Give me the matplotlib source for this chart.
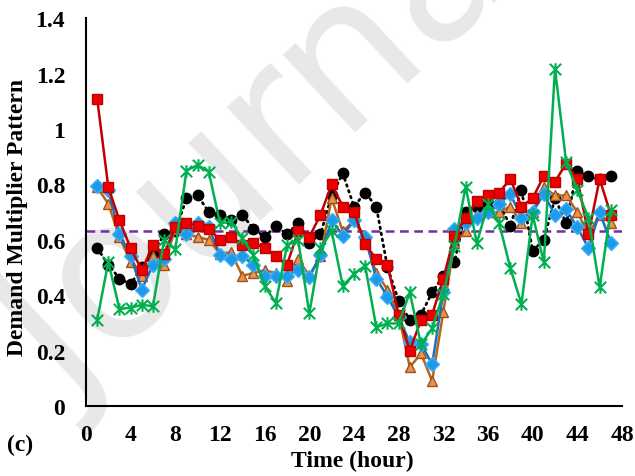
import matplotlib
matplotlib.use("Agg")
import matplotlib.pyplot as plt
from matplotlib.path import Path

# Hour of day (two-day horizon)
hours = list(range(1, 48))

# Demand multiplier patterns
pattern_black = [0.57, 0.51, 0.46, 0.44, 0.50, 0.55, 0.62, 0.63, 0.75, 0.76,
                 0.70, 0.69, 0.67, 0.69, 0.64, 0.61, 0.65, 0.62, 0.66, 0.59,
                 0.62, 0.76, 0.84, 0.72, 0.77, 0.72, 0.50, 0.38, 0.31, 0.33,
                 0.41, 0.47, 0.52, 0.70, 0.72, 0.73, 0.73, 0.65, 0.78, 0.56,
                 0.60, 0.75, 0.66, 0.85, 0.83, 0.82, 0.83]
pattern_red = [1.11, 0.79, 0.67, 0.57, 0.49, 0.58, 0.55, 0.645, 0.66, 0.65,
               0.64, 0.60, 0.61, 0.58, 0.59, 0.57, 0.54, 0.51, 0.63, 0.61,
               0.69, 0.80, 0.72, 0.70, 0.585, 0.53, 0.51, 0.33, 0.20, 0.31,
               0.33, 0.46, 0.615, 0.68, 0.74, 0.76, 0.77, 0.82, 0.72, 0.75,
               0.83, 0.81, 0.875, 0.82, 0.62, 0.82, 0.69]
pattern_brown = [0.79, 0.73, 0.61, 0.52, 0.47, 0.54, 0.51, 0.64, 0.62, 0.61,
                 0.60, 0.55, 0.555, 0.47, 0.48, 0.49, 0.48, 0.45, 0.53, 0.47,
                 0.54, 0.75, 0.63, 0.67, 0.60, 0.48, 0.42, 0.33, 0.14, 0.19,
                 0.09, 0.34, 0.59, 0.63, 0.69, 0.70, 0.70, 0.72, 0.66, 0.70,
                 0.79, 0.76, 0.76, 0.70, 0.62, 0.69, 0.66]
pattern_blue = [0.795, 0.78, 0.62, 0.54, 0.42, 0.51, 0.53, 0.66, 0.62, 0.66,
                0.645, 0.545, 0.53, 0.54, 0.51, 0.47, 0.47, 0.47, 0.49, 0.465,
                0.545, 0.67, 0.615, 0.67, 0.61, 0.46, 0.395, 0.32, 0.23, 0.225,
                0.15, 0.41, 0.64, 0.66, 0.68, 0.70, 0.73, 0.765, 0.68, 0.70,
                0.765, 0.69, 0.71, 0.645, 0.57, 0.70, 0.59]
pattern_green = [0.31, 0.52, 0.35, 0.355, 0.365, 0.36, 0.60, 0.565, 0.85, 0.87,
                 0.845, 0.66, 0.665, 0.605, 0.545, 0.434, 0.372, 0.58, 0.60, 0.334,
                 0.57, 0.63, 0.433, 0.477, 0.506, 0.284, 0.298, 0.298, 0.41, 0.222,
                 0.28, 0.405, 0.579, 0.792, 0.588, 0.729, 0.66, 0.498, 0.368, 0.69,
                 0.519, 1.217, 0.88, 0.78, 0.678, 0.428, 0.708]
average_level = 0.632

x_ticks = list(range(0, 49, 4))
y_ticks = [0, 0.2, 0.4, 0.6, 0.8, 1.0, 1.2, 1.4]
y_tick_labels = ["0", "0.2", "0.4", "0.6", "0.8", "1", "1.2", "1.4"]

serif = ["Liberation Serif", "DejaVu Serif"]
FS = 17

# asterisk-like marker: an X with a vertical bar
star = Path([(-1, -1), (1, 1), (-1, 1), (1, -1), (0, -1.1), (0, 1.1)],
            [Path.MOVETO, Path.LINETO, Path.MOVETO, Path.LINETO,
             Path.MOVETO, Path.LINETO])

fig = plt.figure(figsize=(6.35, 4.77), dpi=100)
ax = fig.add_axes([0.1354, 0.1468, 0.8441, 0.8129])

# watermark, kept underneath the axes and all labels
fig.text(0.44, 0.71, "Journal", fontsize=140, color="#e8e8e8",
         family="DejaVu Sans", rotation=43, rotation_mode="anchor",
         ha="center", va="center", zorder=-5)
ax.set_facecolor("none")

ax.axhline(average_level, color="#7030A0", lw=1.8, ls=(0, (3.5, 2.2)), zorder=1)

ax.plot(hours, pattern_black, color="black", lw=2.0, ls=(0, (0.6, 1.6)),
        dash_capstyle="round", marker="o", ms=7.5, mfc="black", mec="black",
        zorder=2)
ax.plot(hours, pattern_brown, color="#B5651D", lw=1.8, marker="^", ms=7.5,
        mfc="#E8944A", mec="#A0501A", mew=1.0, zorder=3)
ax.plot(hours, pattern_blue, color="#1F6FC0", lw=1.8, marker="D", ms=7,
        mfc="#1E9BE8", mec="#3FB0F5", mew=1.0, zorder=4)
ax.plot(hours, pattern_red, color="#C00000", lw=1.8, marker="s", ms=7.5,
        mfc="#EE0000", mec="#C00000", mew=1.0, zorder=5)
ax.plot(hours, pattern_green, color="#00B050", lw=1.8, marker=star, ms=9,
        mfc="none", mec="#00B050", mew=1.5, zorder=6)

ax.set_xlim(0, 48)
ax.set_ylim(0, 1.4)
ax.set_xticks(x_ticks)
ax.set_yticks(y_ticks)
ax.set_yticklabels(y_tick_labels)
ax.tick_params(axis="both", length=0, labelsize=FS)
ax.tick_params(axis="x", pad=13)
ax.tick_params(axis="y", pad=15)
for lbl in ax.get_xticklabels() + ax.get_yticklabels():
    lbl.set_family(serif)
    lbl.set_fontweight("bold")

for side in ("top", "right"):
    ax.spines[side].set_visible(False)
for side in ("left", "bottom"):
    ax.spines[side].set_color("black")
    ax.spines[side].set_linewidth(1.5)

ax.set_xlabel("Time (hour)", family=serif, fontweight="bold", fontsize=FS)
ax.xaxis.set_label_coords(0.496, -0.113)
ax.set_ylabel("Demand Multiplier Pattern", family=serif, fontweight="bold",
              fontsize=FS)
ax.yaxis.set_label_coords(-0.108, 0.49)
fig.text(0.0315, 0.067, "(c)", family=serif, fontweight="bold", fontsize=FS,
         ha="center", va="center")

fig.savefig("out.png", dpi=100)
